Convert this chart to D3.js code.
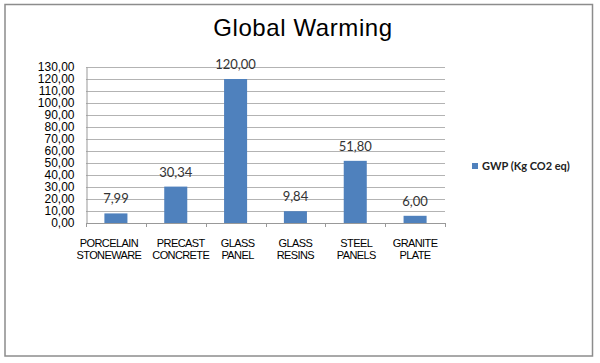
<!DOCTYPE html>
<html>
<head>
<meta charset="utf-8">
<script src="https://cdn.jsdelivr.net/npm/d3@7"></script>
<style>
    body { margin: 0; background: #fff; }
</style>
</head>
<body>
<script>
// chart data
const categories = ["PORCELAIN|STONEWARE", "PRECAST|CONCRETE", "GLASS|PANEL", "GLASS|RESINS", "STEEL|PANELS", "GRANITE|PLATE"];
const gwpValues = [7.99, 30.34, 120.00, 9.84, 51.80, 6.00];
const yTicks = [0, 10, 20, 30, 40, 50, 60, 70, 80, 90, 100, 110, 120, 130];
const seriesName = "GWP (Kg CO2 eq)";
const chartTitle = "Global Warming";

function init() {
    "use strict";

    const w = 600;
    const h = 363;
    const plotLeft = 86;
    const plotRight = 445;
    const plotTop = 67;
    const plotBottom = 223;
    const barColor = "#4f81bd";
    const fmt = v => v.toFixed(2).replace(".", ",");
    // small nudges so the wide labels don't collide (like Excel does)
    const labelShift = [-7, 5, 2, 0, 1, 0];

    const svg = d3.select("body")
    .append("svg")
        .attr("width", w)
        .attr("height", h);

    // outer frame
    svg.append("rect")
        .attr("x", 5)
        .attr("y", 4.5)
        .attr("width", 587.5)
        .attr("height", 351.5)
        .attr("fill", "none")
        .attr("stroke", "#8c8c8c")
        .attr("stroke-width", 1.5);

    svg.append("text")
        .attr("x", 303)
        .attr("y", 35.5)
        .attr("text-anchor", "middle")
        .style("font-family", "Liberation Sans, Arial, sans-serif")
        .style("font-size", "24px")
        .style("letter-spacing", "0.6px")
        .text(chartTitle);

    // scales
    const xScale = d3.scaleBand()
                    .domain(categories)
                    .range([plotLeft, plotRight])
                    .paddingInner(0.615)
                    .paddingOuter(0.3075);

    const yScale = d3.scaleLinear()
                    .domain([0, 130])
                    .range([plotBottom, plotTop]);

    // gridlines
    svg.append("g")
        .selectAll("line")
        .data(yTicks.filter(t => t > 0))
        .enter()
        .append("line")
            .attr("x1", plotLeft)
            .attr("x2", plotRight)
            .attr("y1", d => Math.round(yScale(d)) + 0.5)
            .attr("y2", d => Math.round(yScale(d)) + 0.5)
            .attr("stroke", "#b3b3b3")
            .attr("stroke-width", 1);

    // bars
    svg.selectAll("rect.bar")
    .data(categories)
    .enter()
    .append("rect")
        .attr("class", "bar")
        .attr("x", d => xScale(d))
        .attr("y", (d, i) => yScale(gwpValues[i]))
        .attr("width", xScale.bandwidth())
        .attr("height", (d, i) => plotBottom - yScale(gwpValues[i]))
        .attr("fill", barColor);

    // data labels
    svg.selectAll("text.lbl")
    .data(categories)
    .enter()
    .append("text")
        .attr("class", "lbl")
        .attr("x", d => xScale(d) + xScale.bandwidth() / 2)
        .attr("y", (d, i) => yScale(gwpValues[i]) - 10)
        .attr("text-anchor", "middle")
        .style("font-family", "Lato, sans-serif")
        .style("font-size", "13px")
        .style("fill", "#333")
        .text((d, i) => fmt(gwpValues[i]));

    // y axis
    const yAxis = d3.axisLeft(yScale)
                    .tickValues(yTicks)
                    .tickSize(0)
                    .tickPadding(12)
                    .tickFormat(fmt);
    const gy = svg.append("g")
        .attr("transform", "translate(" + (plotLeft + 0.5) + ",0)")
        .call(yAxis);
    gy.select(".domain").attr("stroke", "#999");
    gy.selectAll("text")
        .style("font-family", "Liberation Sans, Arial, sans-serif")
        .style("font-size", "12px")
        .style("fill", "#000");

    // x axis baseline and ticks
    const gx = svg.append("g");
    gx.append("line")
        .attr("x1", plotLeft)
        .attr("x2", plotRight)
        .attr("y1", plotBottom + 0.5)
        .attr("y2", plotBottom + 0.5)
        .attr("stroke", "#999");
    const step = xScale.step();
    gx.selectAll("line.tick")
    .data(d3.range(categories.length + 1))
    .enter()
    .append("line")
        .attr("class", "tick")
        .attr("x1", i => Math.round(plotLeft + i * step) + 0.5)
        .attr("x2", i => Math.round(plotLeft + i * step) + 0.5)
        .attr("y1", plotBottom)
        .attr("y2", plotBottom + 4)
        .attr("stroke", "#999");

    const xl = gx.selectAll("text.cat")
    .data(categories)
    .enter()
    .append("text")
        .attr("class", "cat")
        .attr("x", (d, i) => xScale(d) + xScale.bandwidth() / 2 + labelShift[i])
        .attr("y", 247)
        .attr("text-anchor", "middle")
        .style("font-family", "Liberation Sans, Arial, sans-serif")
        .style("font-size", "11px")
        .style("letter-spacing", "-0.6px")
        .style("fill", "#000");
    xl.selectAll("tspan")
    .data(d => d.split("|"))
    .enter()
    .append("tspan")
        .attr("x", function() { return this.parentNode.getAttribute("x"); })
        .attr("dy", (d, i) => i === 0 ? 0 : 11.5)
        .text(d => d);

    // legend
    const legend = svg.append("g");
    legend.append("rect")
        .attr("x", 472)
        .attr("y", 163)
        .attr("width", 6)
        .attr("height", 6)
        .attr("fill", barColor);
    legend.append("text")
        .attr("x", 482)
        .attr("y", 170)
        .style("font-family", "Lato, sans-serif")
        .style("font-size", "11px")
        .style("font-weight", "bold")
        .style("fill", "#222")
        .text(seriesName);
}

window.onload = init;
</script>
</body>
</html>
